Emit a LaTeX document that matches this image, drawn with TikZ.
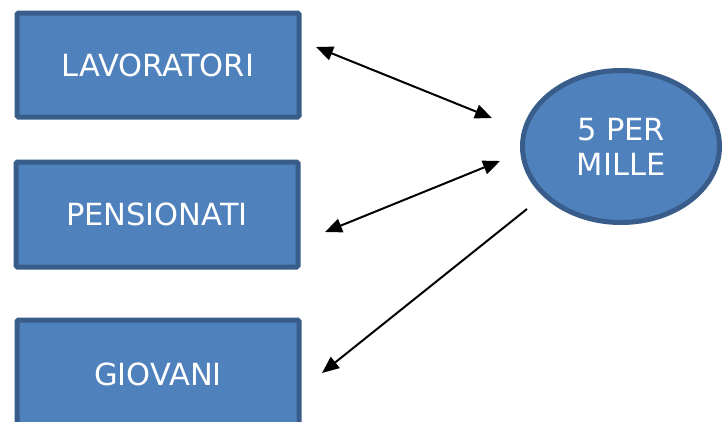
\documentclass[tikz,border=0pt]{standalone}
\usepackage{fontspec}
\setmainfont{DejaVu Sans}
\usetikzlibrary{arrows.meta,shapes.geometric}
\definecolor{boxfill}{HTML}{4F81BD}
\definecolor{boxedge}{HTML}{385D8A}
\tikzset{
  blockbox/.style={draw=boxedge, fill=boxfill, line width=5pt, rounded corners=1.5pt,
    text=white, font=\fontsize{30.5}{35}\selectfont, inner sep=0pt, anchor=north west},
  ovalbox/.style={draw=boxedge, fill=boxfill, line width=5pt, ellipse,
    text=white, font=\fontsize{30.5}{35}\selectfont, inner sep=0pt, align=center},
  tip/.style={Triangle[length=17pt,width=14pt]},
  link/.style={line width=2pt, black, {Triangle[length=17pt,width=14pt]}-{Triangle[length=17pt,width=14pt]}},
  onelink/.style={line width=2pt, black, -{Triangle[length=17pt,width=14pt]}}
}
\begin{document}
\begin{tikzpicture}[x=1pt,y=-1pt]
\useasboundingbox (0,0) rectangle (722,421);
\clip (0,0) rectangle (722,421);
\fill[white] (0,0) rectangle (722,421);
\node[blockbox, minimum width=282pt, minimum height=104pt] (lav) at (14.5,10.5) {LAVORATORI};
\node[blockbox, minimum width=282pt, minimum height=105pt] (pen) at (13.5,159.5) {PENSIONATI};
\node[blockbox, minimum width=282pt, minimum height=108pt] (gio) at (14.5,317.5) {GIOVANI};
\node[ovalbox, minimum width=197pt, minimum height=152pt] (mil) at (621,146.5) {5 PER\\MILLE};
\coordinate (a1) at (316,47);
\coordinate (a2) at (492,118);
\coordinate (b1) at (500,161);
\coordinate (b2) at (325,232);
\coordinate (c1) at (527,209);
\coordinate (c2) at (322,373);
\draw[link] (a1) -- (a2);
\draw[link] (b1) -- (b2);
\draw[onelink] (c1) -- (c2);
\end{tikzpicture}
\end{document}
